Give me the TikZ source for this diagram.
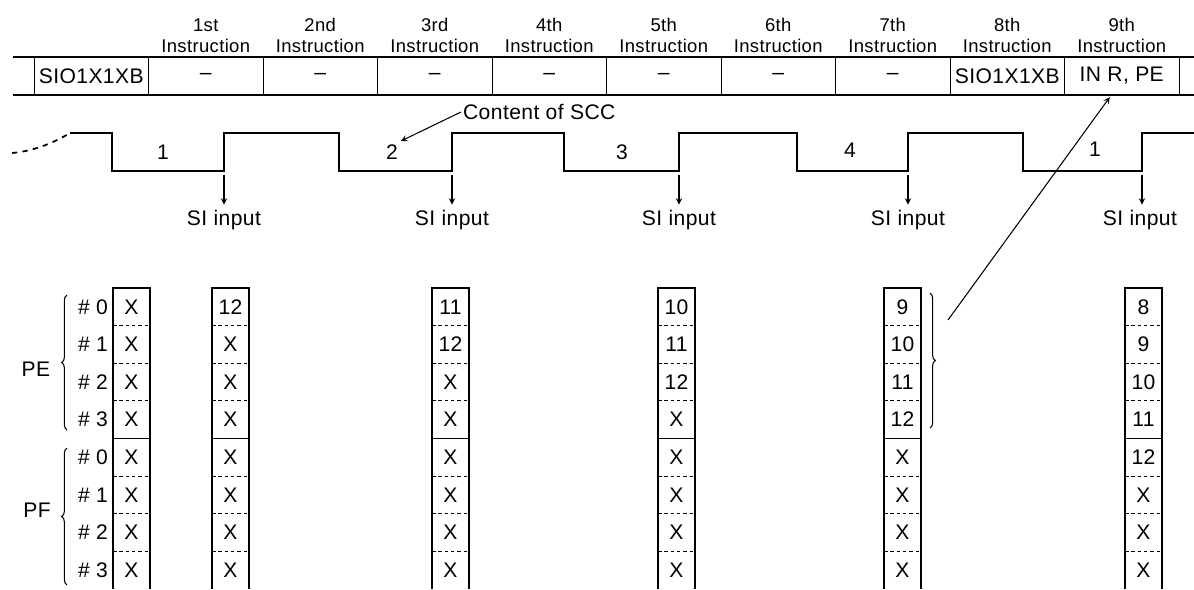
\documentclass[tikz,border=0pt]{standalone}
\usepackage{fontspec}
\setmainfont[LetterSpace=2]{Liberation Sans}
\usepackage{tikz}
\usetikzlibrary{positioning,decorations.pathreplacing}

\begin{document}
\begin{tikzpicture}[>=stealth, x=0.02cm, y=-0.02cm,
    every node/.style={inner sep=1pt, font=\fontsize{12}{14}\selectfont},
    cell/.style={draw, line width=0.5pt, minimum width=2.29cm, minimum height=0.76cm, inner sep=0pt},
    head/.style={align=center, font=\fontsize{10.5}{12}\selectfont},
    reg/.style={minimum width=0.72cm, minimum height=0.72cm, inner sep=0pt},
    sep/.style={line width=0.5pt, dash pattern=on 2pt off 1.6pt},
    wave/.style={line width=1.2pt},
    brc/.style={decorate, decoration={brace, amplitude=3pt}, line width=0.6pt}]
    \useasboundingbox (0,0) rectangle (1194,589);

    % instruction row
    \draw[line width=0.8pt] (13,57) -- (1194,57);
    \draw[line width=0.8pt] (13,95) -- (1194,95);
    \node[cell] (i0) at (91.25,76) {SIO1X1XB};
    \node[cell] (i1) at (205.75,76) {--};
    \node[cell] (i2) at (320.25,76) {--};
    \node[cell] (i3) at (434.75,76) {--};
    \node[cell] (i4) at (549.25,76) {--};
    \node[cell] (i5) at (663.75,76) {--};
    \node[cell] (i6) at (778.25,76) {--};
    \node[cell] (i7) at (892.75,76) {--};
    \node[cell] (i8) at (1007.25,76) {SIO1X1XB};
    \node[cell] (i9) at (1121.75,76) {IN R, PE};
    \node[head, above=0.3mm of i1] (h1) {1st\\Instruction};
    \node[head, above=0.3mm of i2] (h2) {2nd\\Instruction};
    \node[head, above=0.3mm of i3] (h3) {3rd\\Instruction};
    \node[head, above=0.3mm of i4] (h4) {4th\\Instruction};
    \node[head, above=0.3mm of i5] (h5) {5th\\Instruction};
    \node[head, above=0.3mm of i6] (h6) {6th\\Instruction};
    \node[head, above=0.3mm of i7] (h7) {7th\\Instruction};
    \node[head, above=0.3mm of i8] (h8) {8th\\Instruction};
    \node[head, above=0.3mm of i9] (h9) {9th\\Instruction};

    % serial clock
    \draw[dashed, line width=1pt] (12,153) .. controls (35,151) and (55,142) .. (70,133);
    \draw[wave] (70,133) -- (112,133) -- (112,171) -- (224,171) -- (224,133)
        -- (339,133) -- (339,171) -- (452,171) -- (452,133) -- (564,133)
        -- (564,171) -- (679,171) -- (679,133) -- (797,133) -- (797,171)
        -- (908,171) -- (908,133) -- (1023,133) -- (1023,171) -- (1142,171)
        -- (1142,133) -- (1194,133);
    \node (n1) at (163,152) {1};
    \node (n2) at (392,152) {2};
    \node (n3) at (622,152) {3};
    \node (n4) at (850,150) {4};
    \node (n5) at (1095,149) {1};

    % content of SCC
    \node[anchor=west] (scc) at (461,112) {Content of SCC};
    \coordinate (sccp) at (401,141);
    \draw[->, line width=0.6pt] (scc.west) -- (sccp);

    % SI input
    \node (si1) at (224,220) {SI input};
    \node (si2) at (452,220) {SI input};
    \node (si3) at (679,220) {SI input};
    \node (si4) at (908,220) {SI input};
    \node (si5) at (1140,220) {SI input};
    \coordinate (e1) at (224,175);
    \coordinate (e2) at (452,175);
    \coordinate (e3) at (679,175);
    \coordinate (e4) at (908,175);
    \coordinate (e5) at (1142,175);
    \draw[->, line width=0.6pt, shorten >=2pt] (e1) -- (si1.north);
    \draw[->, line width=0.6pt, shorten >=2pt] (e2) -- (si2.north);
    \draw[->, line width=0.6pt, shorten >=2pt] (e3) -- (si3.north);
    \draw[->, line width=0.6pt, shorten >=2pt] (e4) -- (si4.north -| e4);
    \draw[->, line width=0.6pt, shorten >=2pt] (e5) -- (si5.north -| e5);

    % PE / PF labels
    \node (pe) at (36,369) {PE};
    \node (pf) at (37,510) {PF};
    \draw[brc] (67,430) -- (67,295);
    \draw[brc] (67,585) -- (67,448);
    \foreach \r/\t in {1/\# 0, 2/\# 1, 3/\# 2, 4/\# 3, 5/\# 0, 6/\# 1, 7/\# 2, 8/\# 3}
        \node[anchor=east] (lab\r) at (110,{288+37.6*(\r-0.5)}) {\t};

    % register columns
    \foreach \x in {113,212,432,658,884,1125} {
        \draw[line width=0.6pt] (\x,589) -- (\x,288) -- (\x+37,288) -- (\x+37,589);
        \draw[line width=0.6pt] (\x,438.4) -- (\x+37,438.4);
        \foreach \r in {1,2,3,5,6,7}
            \draw[sep] (\x,{288+37.6*\r}) -- (\x+37,{288+37.6*\r});
    }
    \foreach \v [count=\r] in {X,X,X,X,X,X,X,X}
        \node[reg] (a\r) at (131.5,{288+37.6*(\r-0.5)}) {\v};
    \foreach \v [count=\r] in {12,X,X,X,X,X,X,X}
        \node[reg] (b\r) at (230.5,{288+37.6*(\r-0.5)}) {\v};
    \foreach \v [count=\r] in {11,12,X,X,X,X,X,X}
        \node[reg] (c\r) at (450.5,{288+37.6*(\r-0.5)}) {\v};
    \foreach \v [count=\r] in {10,11,12,X,X,X,X,X}
        \node[reg] (d\r) at (676.5,{288+37.6*(\r-0.5)}) {\v};
    \foreach \v [count=\r] in {9,10,11,12,X,X,X,X}
        \node[reg] (f\r) at (902.5,{288+37.6*(\r-0.5)}) {\v};
    \foreach \v [count=\r] in {8,9,10,11,12,X,X,X}
        \node[reg] (g\r) at (1143.5,{288+37.6*(\r-0.5)}) {\v};

    % bracket over the 7th column, read by IN R, PE
    \draw[brc] (930,293) -- (930,428);
    \coordinate (brtip) at (948,320);
    \coordinate (pe9) at ([xshift=-0.24cm, yshift=-1pt]i9.south);
    \draw[->, line width=0.6pt] (brtip) -- (pe9);
\end{tikzpicture}
\end{document}
